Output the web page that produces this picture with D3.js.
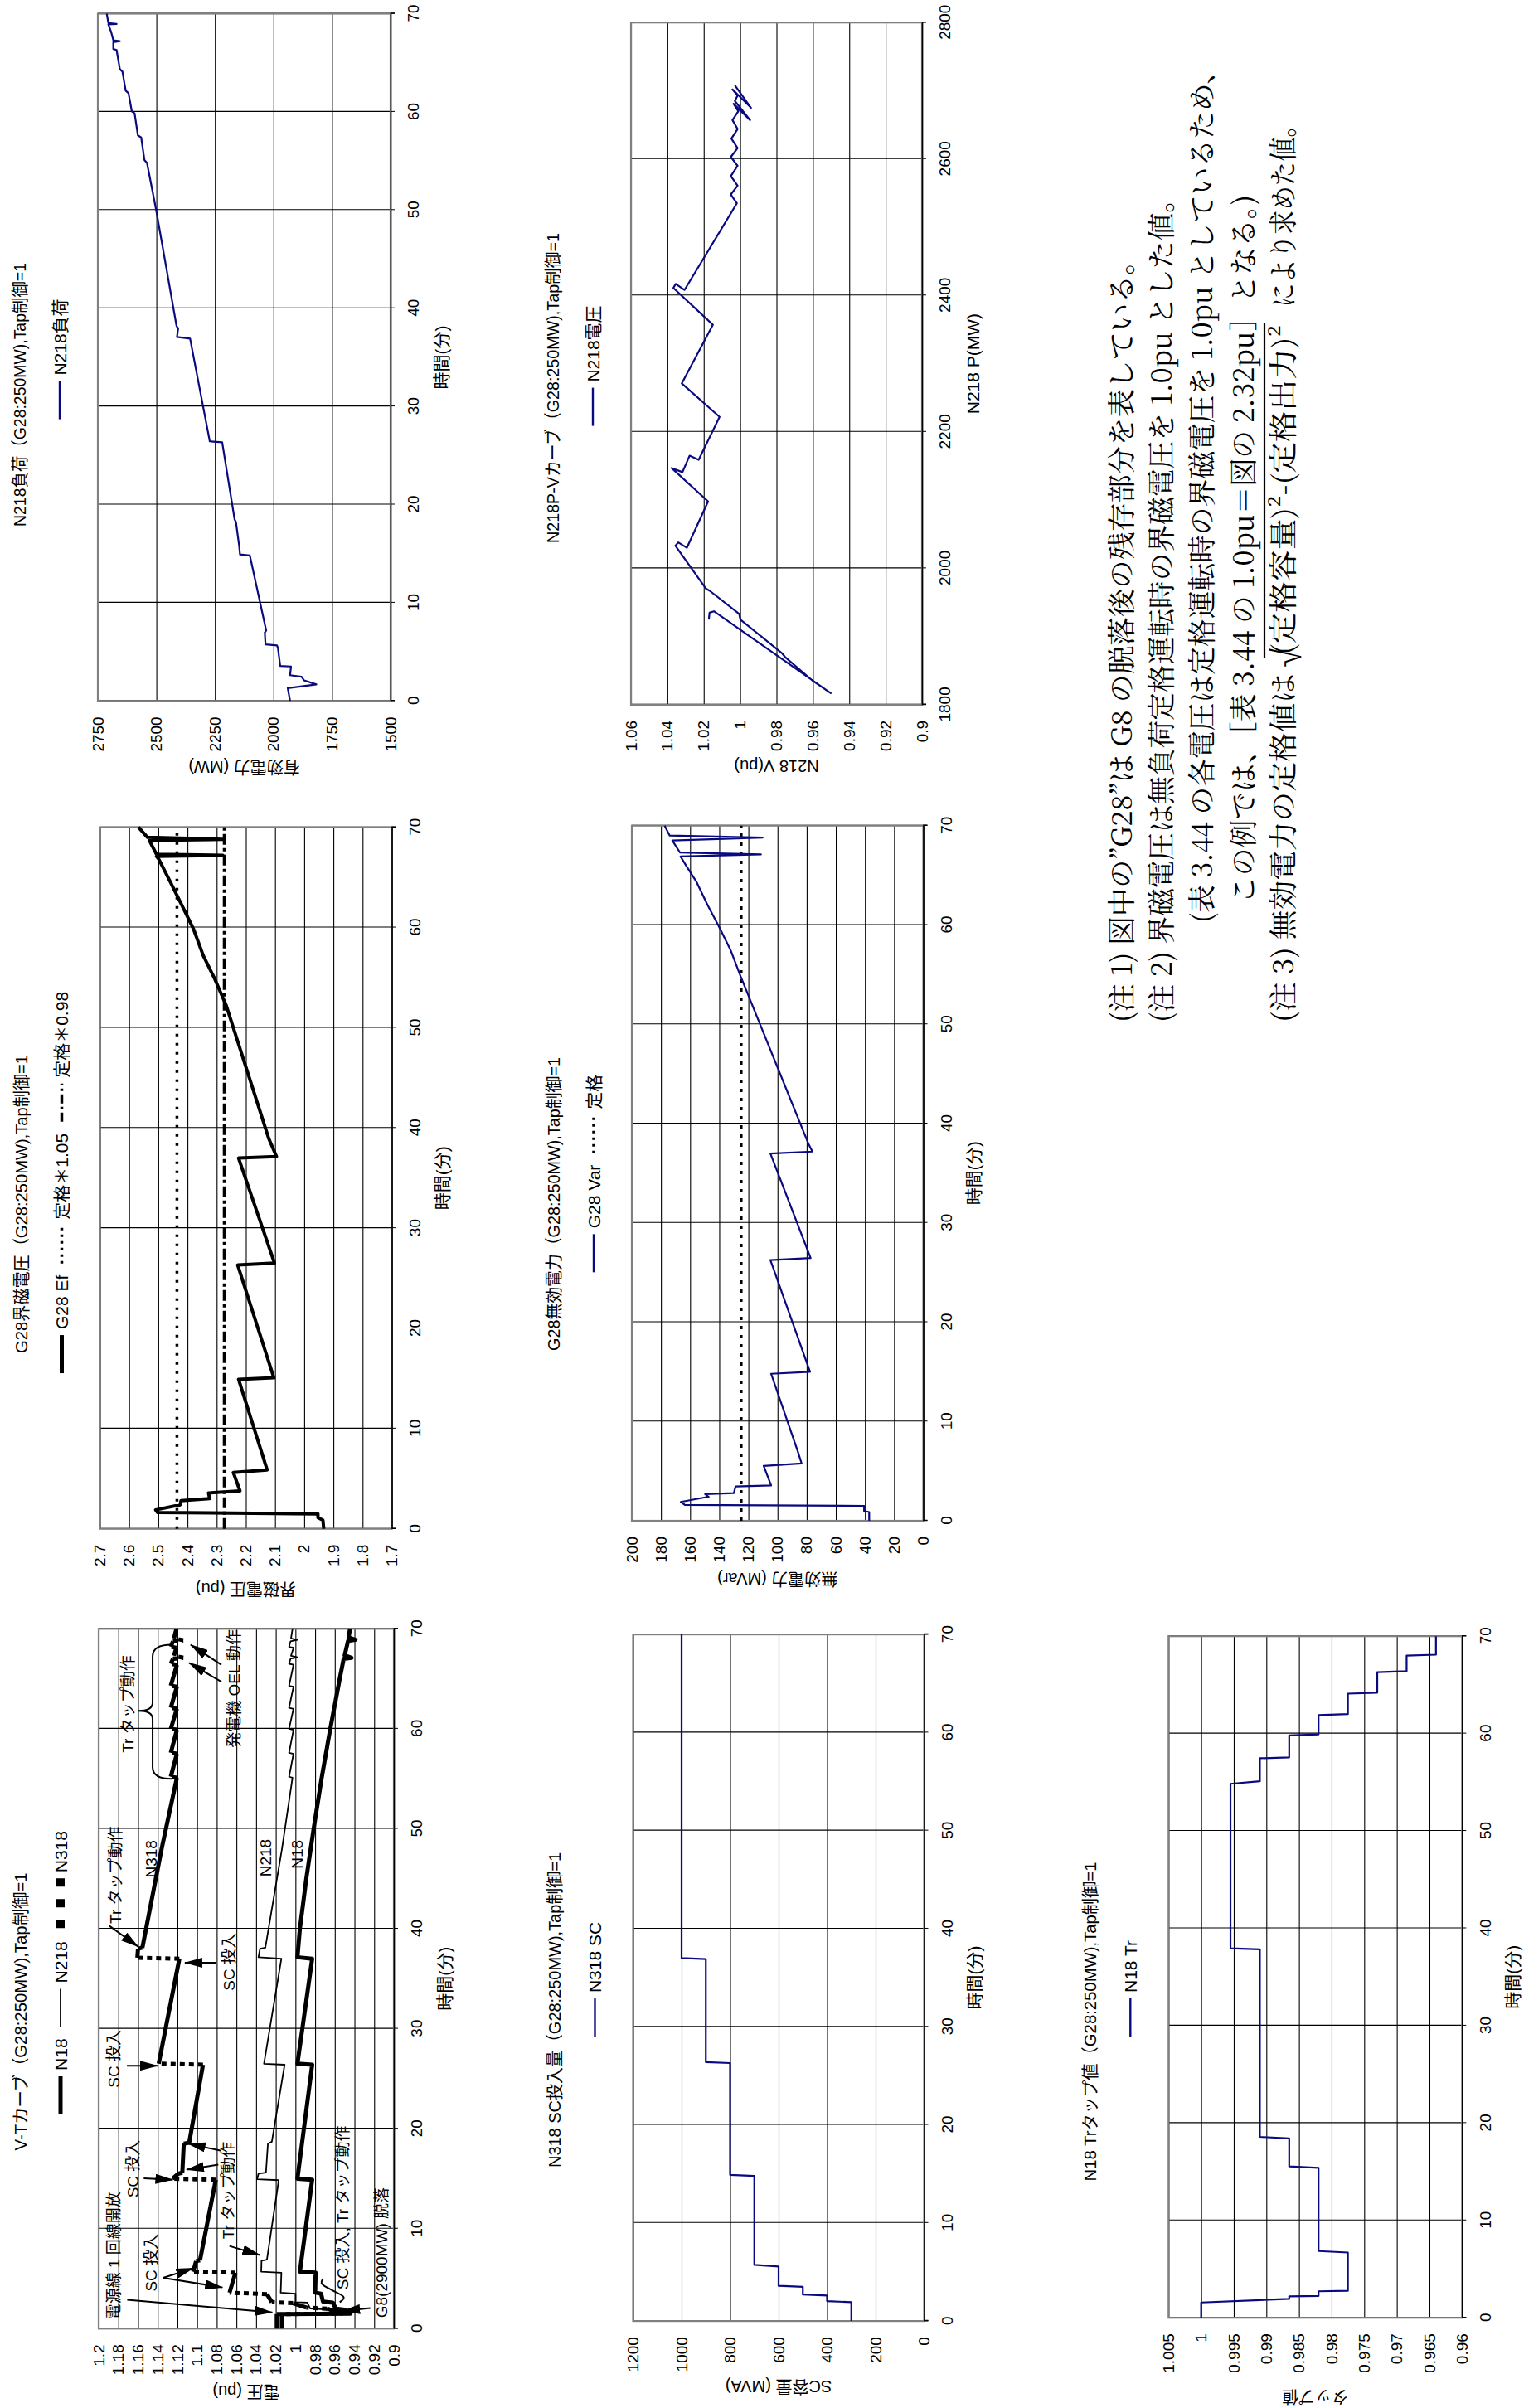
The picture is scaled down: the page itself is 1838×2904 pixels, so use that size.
<!DOCTYPE html>
<html>
<head>
<meta charset="utf-8">
<title>G28:250MW Tap制御=1</title>
<script src="https://cdn.jsdelivr.net/npm/d3@7/dist/d3.min.js"></script>
<style>
  body { margin: 0; background: #fff; }
  svg { display: block; }
  text { font-family: "Liberation Sans", "Noto Sans CJK JP", sans-serif; fill: #000; }
  text.note { font-family: "Noto Serif CJK JP", "Liberation Serif", "Noto Sans CJK JP", serif; }
</style>
</head>
<body>
<svg id="page" width="1838" height="2904"></svg>
<script>
// ---- ticks ----
const minuteTicks = [0, 10, 20, 30, 40, 50, 60, 70];
const vtTicks = [0.9, 0.92, 0.94, 0.96, 0.98, 1, 1.02, 1.04, 1.06, 1.08, 1.1, 1.12, 1.14, 1.16, 1.18, 1.2];
const efTicks = [1.7, 1.8, 1.9, 2, 2.1, 2.2, 2.3, 2.4, 2.5, 2.6, 2.7];
const loadTicks = [1500, 1750, 2000, 2250, 2500, 2750];
const scTicks = [0, 200, 400, 600, 800, 1000, 1200];
const varTicks = [0, 20, 40, 60, 80, 100, 120, 140, 160, 180, 200];
const pTicks = [1800, 2000, 2200, 2400, 2600, 2800];
const pvTicks = [0.9, 0.92, 0.94, 0.96, 0.98, 1, 1.02, 1.04, 1.06];
const tapTicks = [0.96, 0.965, 0.97, 0.975, 0.98, 0.985, 0.99, 0.995, 1, 1.005];

// ---- V-T curve [min, pu] ----
const vtN18 = [[0,1.0138],[1.45,1.0138],[1.5,0.944],[1.9,0.950],[2.0,0.959],[2.6,0.962],[2.7,0.972],[3.5,0.974],[3.6,0.980],[5.6,0.9795],[5.7,0.9955],[14.9,0.983],[15.0,0.998],[26.4,0.983],[26.5,0.998],[37.0,0.983],[37.15,0.998],[40,0.9955],[45,0.989],[50,0.9815],[55,0.9735],[60,0.9646],[65,0.955],[67.0,0.951],[67.1,0.943],[67.35,0.950],[68.8,0.9465],[68.9,0.939],[69.15,0.946],[70,0.9445]];
const vtN218 = [[0,1.017],[1.45,1.017],[1.5,0.962],[1.9,0.966],[2.0,0.985],[2.6,0.988],[2.65,1.0],[3.5,1.0],[3.6,1.015],[5.6,1.0143],[5.7,1.0348],[6.8,1.0345],[6.9,1.029],[14.85,1.017],[14.95,1.039],[15.5,1.0376],[15.6,1.030],[18.5,1.028],[18.7,1.024],[26.4,1.011],[26.5,1.032],[37.0,1.0143],[37.15,1.0376],[38.0,1.036],[38.1,1.0306],[48,1.0137],[55.1,1.003],[55.2,1.0065],[57.5,1.002],[57.6,1.0065],[59.9,1.002],[60.0,1.0065],[62.0,1.002],[62.1,1.0065],[64.2,1.002],[64.3,1.0065],[66.4,1.002],[66.5,1.0065],[67.0,1.005],[67.15,0.998],[67.3,1.0045],[68.1,1.002],[68.2,1.0065],[68.75,1.005],[68.9,0.998],[69.05,1.0045],[70,1.003]];
const vtN318 = [[0,1.019],[1.45,1.019],[1.5,0.952],[2.0,0.968],[2.1,0.989],[2.55,1.0025],[2.65,1.024],[3.45,1.029],[3.6,1.067],[5.6,1.061],[5.7,1.104],[6.75,1.101],[6.85,1.097],[14.9,1.081],[15.0,1.125],[15.5,1.119],[15.6,1.115],[18.5,1.1135],[18.6,1.108],[26.4,1.094],[26.5,1.139],[37.0,1.118],[37.1,1.1607],[38.0,1.160],[38.1,1.1556],[48,1.136],[55.1,1.1205],[55.2,1.1267],[57.5,1.1205],[57.6,1.1267],[59.9,1.1205],[60.0,1.1267],[62.0,1.1205],[62.1,1.1267],[64.2,1.1205],[64.3,1.1267],[66.4,1.1205],[66.5,1.1267],[67.0,1.1245],[67.1,1.114],[67.3,1.1235],[68.1,1.121],[68.2,1.1267],[68.75,1.1245],[68.85,1.114],[69.05,1.1235],[70,1.121]];

// annotation texts [label, start min, pu]
const vtLabels = [
  ["電源線 1 回線開放", 0.91, 1.1848],
  ["SC 投入", 3.71, 1.1469],
  ["SC 投入", 13.1, 1.1654],
  ["Tr タップ動作", 8.96, 1.0685],
  ["SC 投入, Tr タップ動作", 3.9, 0.9522],
  ["G8(2900MW) 脱落", 1.08, 0.9126],
  ["SC 投入", 24.1, 1.184],
  ["SC 投入", 33.8, 1.0669],
  ["Tr タップ動作", 40.5, 1.1831],
  ["N318", 45.1, 1.1469],
  ["N218", 45.2, 1.0298],
  ["N18", 46.0, 0.9978],
  ["Tr タップ動作", 57.6, 1.1697],
  ["発電機 OEL 動作", 58.1, 1.0626]
];
// arrows [from min, from pu, to min, to pu]
const vtArrows = [
  [2.88,1.171,1.63,1.0236],
  [5.08,1.1345,6.05,1.1037],
  [5.08,1.1345,4.12,1.0742],
  [15.04,1.1542,14.9,1.1247],
  [8.27,1.0671,7.36,1.0363],
  [17.8,1.0755,18.5,1.1092],
  [16.4,1.0784,15.9,1.1107],
  [2.05,0.9239,1.77,0.952],
  [26.3,1.1713,26.3,1.1402],
  [36.6,1.0812,36.6,1.1124],
  [40.3,1.1893,38.2,1.1598],
  [66.4,1.0753,68.4,1.1065],
  [64.7,1.0753,66.6,1.1081]
];
const vtHook = [[2.65,0.955],[3.15,0.948],[3.65,0.959],[4.15,0.969],[4.56,0.975],[4.98,0.972]];
const vtBrace = { from: 55, to: 68.4, tip: 61.8, arm: 1.1258, top: 1.1596 };

// ---- G28 field voltage [min, pu] ----
const g28Ef = [[0,1.933],[0.87,1.936],[1.12,1.953],[1.48,1.953],[1.63,2.503],[1.89,2.509],[2.4,2.425],[2.81,2.422],[3.01,2.324],[3.58,2.328],[3.78,2.22],[5.62,2.243],[5.88,2.127],[14.92,2.225],[15.07,2.104],[26.32,2.228],[26.52,2.102],[37.0,2.225],[37.15,2.095],[38.9,2.121],[52.2,2.267],[54.9,2.307],[57.2,2.346],[59.9,2.38],[62.2,2.419],[64.5,2.458],[66.8,2.498],[67.1,2.506],[67.2,2.279],[67.3,2.506],[68.7,2.531],[68.8,2.279],[69.0,2.537],[70,2.568]];
const efUpper = 2.436;   // 定格*1.05
const efLower = 2.274;   // 定格*0.98

// ---- N218 load [min, MW] ----
const n218Load = [[0,1929],[1.31,1939],[1.68,1817],[2.09,1869],[2.46,1880],[2.62,1929],[3.51,1925],[3.56,1971],[5.39,1981],[5.65,1985],[5.76,2034],[6.96,2037],[7.17,2031],[14.82,2101],[14.92,2143],[15.7,2146],[18.2,2160],[18.5,2166],[26.34,2219],[26.44,2272],[36.9,2356],[37.07,2412],[37.96,2407],[38.2,2414],[50.0,2501],[54.8,2540],[55.1,2551],[57.4,2565],[57.6,2579],[59.85,2593],[60.05,2605],[61.9,2619],[62.15,2631],[64.1,2645],[64.35,2656],[66.3,2670],[66.4,2684],[67.1,2684],[67.2,2656],[67.3,2684],[68.2,2694],[68.9,2705],[68.96,2670],[69.05,2705],[70,2712]];

// ---- N318 SC [min, MVA] ----
const n318Sc = [[0,300],[1.92,300],[2.03,400],[2.6,400],[2.7,500],[3.48,500],[3.59,600],[5.56,600],[5.72,700],[14.8,700],[14.9,800],[26.3,800],[26.4,900],[36.9,900],[37.0,1000],[70,1000]];

// ---- G28 reactive power [min, MVar] ----
const g28Var = [[0,37.1],[0.88,37.1],[0.98,40.6],[1.5,40.6],[1.6,163.6],[1.9,166.4],[2.42,147.3],[2.68,149.7],[2.78,130],[3.46,128.8],[3.56,104.4],[5.52,109.5],[5.78,83.5],[7.07,86.3],[14.8,104.4],[15.0,77.7],[26.25,104.9],[26.46,77.3],[36.98,104.9],[37.18,76.1],[38.0,78.9],[55.0,125.8],[57.5,132.3],[59.9,140.4],[62.0,148],[64.3,155.5],[65.9,162.4],[66.9,166.6],[67.1,111.4],[67.3,167],[68.5,172.2],[68.8,110.2],[69.0,174],[70,177.5]];
const varRated = 125;

// ---- N218 P-V [MW, pu] ----
const n218PV = [[1925,1.0172],[1935,1.0168],[1937,1.0144],[1817,0.9502],[1836,0.9605],[1870,0.9753],[1875,0.9768],[1925,0.9999],[1933,1.0005],[1967,1.0167],[1970,1.0187],[2033,1.0356],[2038,1.034],[2030,1.0293],[2098,1.0176],[2147,1.0377],[2141,1.0317],[2165,1.0278],[2159,1.0228],[2222,1.0113],[2271,1.0321],[2357,1.015],[2411,1.0367],[2417,1.0354],[2408,1.0306],[2535,1.0018],[2548,1.0051],[2561,1.0014],[2575,1.0051],[2590,1.0014],[2603,1.0051],[2616,1.0014],[2630,1.0048],[2644,1.0014],[2657,1.0042],[2670,1.001],[2681,1.0036],[2657,0.9945],[2685,1.0029],[2693,1.0014],[2702,1.0042],[2675,0.994],[2708,1.0029]];

// ---- N18 Tr tap [min, tap] ----
const n18Tap = [[0,1.0],[1.57,1.0],[1.94,0.9865],[2.2,0.9865],[2.25,0.982],[2.72,0.982],[2.77,0.9775],[6.7,0.9775],[6.85,0.982],[15.4,0.982],[15.54,0.9865],[18.42,0.9865],[18.58,0.991],[37.83,0.991],[37.94,0.9955],[54.84,0.9955],[55.1,0.991],[57.46,0.991],[57.56,0.9865],[59.81,0.9865],[59.92,0.982],[61.9,0.982],[62.0,0.9775],[64.1,0.9775],[64.2,0.973],[66.3,0.973],[66.4,0.9685],[68.0,0.9685],[68.1,0.964],[70,0.964]];

// ---- notes ----
const noteLines = [
  "(注 1) 図中の”G28”は G8 の脱落後の残存部分を表している。",
  "(注 2) 界磁電圧は無負荷定格運転時の界磁電圧を 1.0pu とした値。",
  "(表 3.44 の各電圧は定格運転時の界磁電圧を 1.0pu としているため、",
  "この例では、［表 3.44 の 1.0pu＝図の 2.32pu］となる。)"
];
const note3Parts = ["(注 3) 無効電力の定格値は", "(定格容量)²-(定格出力)²", "により求めた値。"];

const NAVY = "#0a0a80";
const svg = d3.select("#page");
svg.append("rect").attr("width", 1838).attr("height", 2904).attr("fill", "#fff");
svg.append("defs").append("marker")
  .attr("id", "head").attr("markerUnits", "userSpaceOnUse")
  .attr("markerWidth", 22).attr("markerHeight", 12).attr("refX", 21).attr("refY", 6)
  .attr("orient", "auto")
  .append("path").attr("d", "M0,0 L22,6 L0,12 Z").attr("fill", "#000");

// page is drawn in landscape and turned a quarter to the left
const page = svg.append("g").attr("transform", "translate(0,2904) rotate(-90)");

const fmt = d => String(+d.toFixed(4));

function frame(c) {
  const x = d3.scaleLinear().domain(c.xDomain).range([c.left, c.left + c.width]);
  const y = d3.scaleLinear().domain(c.yDomain).range([c.top + c.height, c.top]);
  const g = page.append("g");
  const bottom = c.top + c.height;

  g.append("g").attr("transform", `translate(${c.left},0)`)
    .call(d3.axisLeft(y).tickValues(c.yTicks).tickSize(-c.width).tickFormat(""))
    .call(a => a.select(".domain").remove())
    .call(a => a.selectAll("line").attr("stroke", "#000").attr("stroke-width", 1.1));
  g.append("g").attr("transform", `translate(0,${bottom})`)
    .call(d3.axisBottom(x).tickValues(c.xTicks).tickSize(-c.height).tickFormat(""))
    .call(a => a.select(".domain").remove())
    .call(a => a.selectAll("line").attr("stroke", "#000").attr("stroke-width", 1.1));

  g.append("rect").attr("x", c.left).attr("y", c.top).attr("width", c.width).attr("height", c.height)
    .attr("fill", "none").attr("stroke", "#808080").attr("stroke-width", 2.2);

  // axes with labels
  g.append("g").attr("transform", `translate(0,${bottom})`)
    .call(d3.axisBottom(x).tickValues(c.xTicks).tickSize(5).tickPadding(16).tickFormat(fmt))
    .call(a => a.attr("font-size", 19).attr("font-family", null))
    .call(a => a.select(".domain").attr("stroke-width", 1.6));
  g.append("g").attr("transform", `translate(${c.left},0)`)
    .call(d3.axisLeft(y).tickValues(c.yTicks).tickSize(0).tickPadding(19).tickFormat(fmt))
    .call(a => a.attr("font-size", 19).attr("font-family", null))
    .call(a => a.select(".domain").remove());

  // titles
  g.append("text").attr("x", c.titleX).attr("y", c.top - 95)
    .attr("text-anchor", "middle").attr("dominant-baseline", "central")
    .attr("font-size", 21).attr("textLength", c.titleLen).attr("lengthAdjust", "spacingAndGlyphs")
    .text(c.title);
  g.append("text").attr("x", c.left + c.width / 2).attr("y", bottom + 61)
    .attr("text-anchor", "middle").attr("dominant-baseline", "central")
    .attr("font-size", 21).text(c.xTitle);
  g.append("text")
    .attr("transform", `translate(${c.left - c.yTitleOff},${c.top + c.height / 2}) rotate(-90)`)
    .attr("text-anchor", "middle").attr("dominant-baseline", "central")
    .attr("font-size", 20).text(c.yTitle);

  legend(g, c.legendX, c.top - 46, c.legend);
  return { g, x, y };
}

function symbol(s, type) {
  const L = 46;
  const line = (w, col, dash) => s.append("line").attr("x1", 0).attr("x2", L)
    .attr("stroke", col).attr("stroke-width", w).attr("stroke-dasharray", dash || null);
  if (type === "thick") line(5, "#000");
  else if (type === "thin") line(1.8, "#000");
  else if (type === "blue") line(2.4, NAVY);
  else if (type === "dots") line(3.5, "#000", "3,5");
  else if (type === "dashdot") line(3.5, "#000", "11,4,3,4");
  else if (type === "squares") {
    s.selectAll("rect").data([2, 27, 52]).join("rect")
      .attr("x", d => d).attr("y", -5).attr("width", 10).attr("height", 10).attr("fill", "#000");
    return 62;
  }
  return L;
}

function legend(g, cx, cy, items) {
  const lg = g.append("g");
  let pos = 0;
  items.forEach(it => {
    const w = symbol(lg.append("g").attr("transform", `translate(${pos},0)`), it[0]);
    const t = lg.append("text").attr("x", pos + w + 7).attr("dominant-baseline", "central")
      .attr("font-size", 21).text(it[1]);
    pos += w + 7 + t.node().getComputedTextLength() + 14;
  });
  pos -= 14;
  lg.attr("transform", `translate(${cx - pos / 2},${cy})`);
}

function path(g, x, y, data, col, w, dash) {
  g.append("path").datum(data)
    .attr("d", d3.line().x(d => x(d[0])).y(d => y(d[1])))
    .attr("fill", "none").attr("stroke", col).attr("stroke-width", w)
    .attr("stroke-linejoin", "round").attr("stroke-dasharray", dash || null);
}

function hline(g, x, y, v, dash) {
  g.append("line").attr("x1", x.range()[0]).attr("x2", x.range()[1])
    .attr("y1", y(v)).attr("y2", y(v))
    .attr("stroke", "#000").attr("stroke-width", 3.5).attr("stroke-dasharray", dash);
}

// ===== V-T curve =====
{
  const { g, x, y } = frame({
    left: 95.7, top: 119, width: 844, height: 356,
    xDomain: [0, 70], yDomain: [0.9, 1.2], xTicks: minuteTicks, yTicks: vtTicks,
    title: "V-Tカーブ（G28:250MW),Tap制御=1", titleX: 478, titleLen: 335,
    xTitle: "時間(分)", yTitle: "電圧 (pu)", yTitleOff: 76, legendX: 525,
    legend: [["thick", "N18"], ["thin", "N218"], ["squares", "N318"]]
  });
  path(g, x, y, vtN218, "#000", 1.8);
  path(g, x, y, vtN18, "#000", 5);
  // N318: the long time segments read solid, the jumps read dotted
  let run = [vtN318[0]];
  for (let i = 1; i < vtN318.length; i++) {
    const a = vtN318[i - 1], b = vtN318[i];
    if (b[0] - a[0] < 0.25) {
      if (run.length > 1) path(g, x, y, run, "#000", 5);
      path(g, x, y, [a, b], "#000", 5, "6,5");
      run = [b];
    } else run.push(b);
  }
  if (run.length > 1) path(g, x, y, run, "#000", 5);

  g.append("g").selectAll("line").data(vtArrows).join("line")
    .attr("x1", d => x(d[0])).attr("y1", d => y(d[1]))
    .attr("x2", d => x(d[2])).attr("y2", d => y(d[3]))
    .attr("stroke", "#000").attr("stroke-width", 2).attr("marker-end", "url(#head)");
  g.append("path").datum(vtHook)
    .attr("d", d3.line().curve(d3.curveBasis).x(d => x(d[0])).y(d => y(d[1])))
    .attr("fill", "none").attr("stroke", "#000").attr("stroke-width", 2);
  {
    const xa = x(vtBrace.from), xb = x(vtBrace.to), xm = x(vtBrace.tip);
    const ya = y(vtBrace.arm), yt = y(vtBrace.top), ym = ya - 23;
    g.append("path")
      .attr("d", `M${xa},${ya} Q${xa},${ym} ${xa + 14},${ym} L${xm - 10},${ym} Q${xm},${ym} ${xm},${yt}` +
                 ` Q${xm},${ym} ${xm + 10},${ym} L${xb - 14},${ym} Q${xb},${ym} ${xb},${ya}`)
      .attr("fill", "none").attr("stroke", "#000").attr("stroke-width", 2);
  }
  g.append("g").selectAll("text").data(vtLabels).join("text")
    .attr("x", d => x(d[1])).attr("y", d => y(d[2]))
    .attr("dominant-baseline", "central").attr("font-size", 19).text(d => d[0]);
}

// ===== G28 field voltage =====
{
  const { g, x, y } = frame({
    left: 1060.3, top: 120.5, width: 846, height: 352,
    xDomain: [0, 70], yDomain: [1.7, 2.7], xTicks: minuteTicks, yTicks: efTicks,
    title: "G28界磁電圧（G28:250MW),Tap制御=1", titleX: 1452, titleLen: 360,
    xTitle: "時間(分)", yTitle: "界磁電圧 (pu)", yTitleOff: 72, legendX: 1478,
    legend: [["thick", "G28 Ef"], ["dots", "定格＊1.05"], ["dashdot", "定格＊0.98"]]
  });
  hline(g, x, y, efUpper, "3,8");
  hline(g, x, y, efLower, "13,4,4,4");
  path(g, x, y, g28Ef, "#000", 4);
}

// ===== N218 load =====
{
  const { g, x, y } = frame({
    left: 2058.7, top: 118, width: 828.8, height: 353,
    xDomain: [0, 70], yDomain: [1500, 2750], xTicks: minuteTicks, yTicks: loadTicks,
    title: "N218負荷（G28:250MW),Tap制御=1", titleX: 2428, titleLen: 318,
    xTitle: "時間(分)", yTitle: "有効電力 (MW)", yTitleOff: 80, legendX: 2471,
    legend: [["blue", "N218負荷"]]
  });
  path(g, x, y, n218Load, NAVY, 2.2);
}

// ===== N318 SC =====
{
  const { g, x, y } = frame({
    left: 104.9, top: 763.5, width: 828, height: 351,
    xDomain: [0, 70], yDomain: [0, 1200], xTicks: minuteTicks, yTicks: scTicks,
    title: "N318 SC投入量（G28:250MW),Tap制御=1", titleX: 480, titleLen: 380,
    xTitle: "時間(分)", yTitle: "SC容量 (MVA)", yTitleOff: 79, legendX: 517,
    legend: [["blue", "N318 SC"]]
  });
  path(g, x, y, n318Sc, NAVY, 2.2);
}

// ===== G28 reactive power =====
{
  const { g, x, y } = frame({
    left: 1070, top: 762, width: 838.3, height: 351.5,
    xDomain: [0, 70], yDomain: [0, 200], xTicks: minuteTicks, yTicks: varTicks,
    title: "G28無効電力（G28:250MW),Tap制御=1", titleX: 1452, titleLen: 354,
    xTitle: "時間(分)", yTitle: "無効電力 (MVar)", yTitleOff: 70, legendX: 1489,
    legend: [["blue", "G28 Var"], ["dots", "定格"]]
  });
  hline(g, x, y, varRated, "4,7");
  path(g, x, y, g28Var, NAVY, 2.2);
}

// ===== N218 P-V curve =====
{
  const { g, x, y } = frame({
    left: 2054.1, top: 761, width: 822.7, height: 351,
    xDomain: [1800, 2800], yDomain: [0.9, 1.06], xTicks: pTicks, yTicks: pvTicks,
    title: "N218P-Vカーブ（G28:250MW),Tap制御=1", titleX: 2436, titleLen: 374,
    xTitle: "N218 P(MW)", yTitle: "N218 V(pu)", yTitleOff: 74, legendX: 2463,
    legend: [["blue", "N218電圧"]]
  });
  path(g, x, y, n218PV, NAVY, 2.2);
}

// ===== N18 Tr tap =====
{
  const { g, x, y } = frame({
    left: 108.8, top: 1409.3, width: 822, height: 354,
    xDomain: [0, 70], yDomain: [0.96, 1.005], xTicks: minuteTicks, yTicks: tapTicks,
    title: "N18 Trタップ値（G28:250MW),Tap制御=1", titleX: 466, titleLen: 385,
    xTitle: "時間(分)", yTitle: "タップ値", yTitleOff: 95, legendX: 506,
    legend: [["blue", "N18 Tr"]]
  });
  path(g, x, y, n18Tap, NAVY, 2.2);
}

// ===== notes =====
const noteLayout = [[1671, 936, 1350], [1671, 1010, 1398], [1791, 1045, 1447], [1814, 855, 1497]];
const notes = page.append("g").attr("font-size", 34);
noteLines.forEach((s, i) => {
  const [x0, len, yy] = noteLayout[i];
  notes.append("text").attr("class", "note").attr("x", x0).attr("y", yy)
    .attr("dominant-baseline", "central").attr("textLength", len)
    .attr("lengthAdjust", "spacingAndGlyphs").text(s);
});
const note3Layout = [[1671, 421], [2114, 398], [2533, 235]];
note3Parts.forEach((s, i) => {
  notes.append("text").attr("class", "note").attr("x", note3Layout[i][0]).attr("y", 1545)
    .attr("dominant-baseline", "central").attr("textLength", note3Layout[i][1])
    .attr("lengthAdjust", "spacingAndGlyphs").text(s);
});
notes.append("text").attr("class", "note").attr("x", 2092).attr("y", 1547)
  .attr("dominant-baseline", "central").attr("font-size", 38).text("√");
notes.append("line").attr("x1", 2110).attr("x2", 2514).attr("y1", 1525).attr("y2", 1525)
  .attr("stroke", "#000").attr("stroke-width", 2.2);
</script>
</body>
</html>
